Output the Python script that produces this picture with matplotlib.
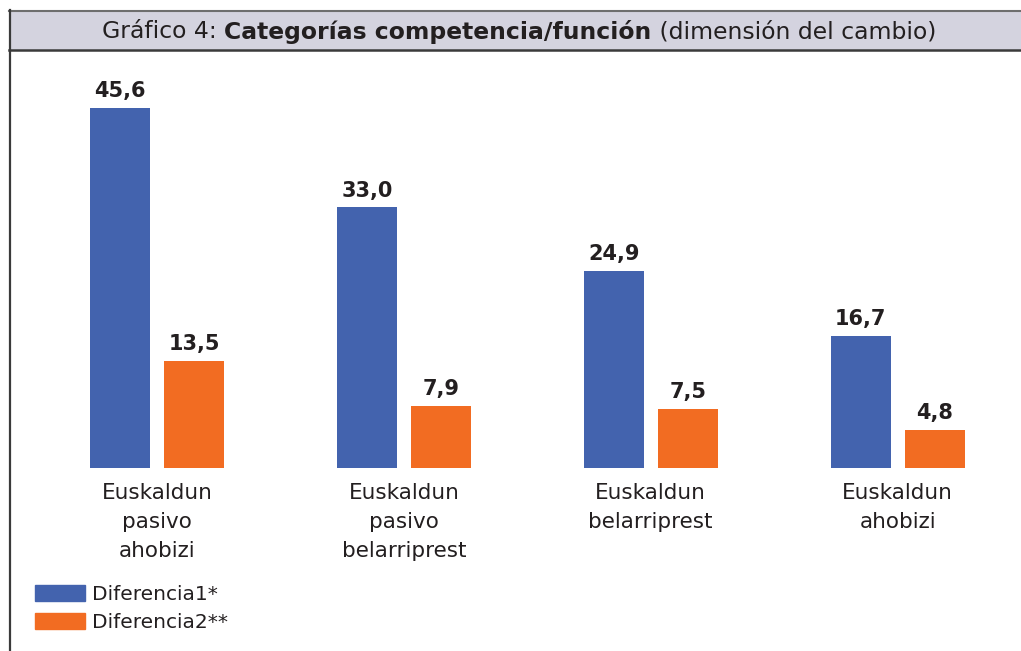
import matplotlib.pyplot as plt
from matplotlib.patches import Rectangle, Patch
from matplotlib.lines import Line2D

plt.rcParams['font.family'] = ['DejaVu Sans']

# datos
categorias = ['Euskaldun\npasivo\nahobizi', 'Euskaldun\npasivo\nbelarriprest',
              'Euskaldun\nbelarriprest', 'Euskaldun\nahobizi']
diferencia1 = [45.6, 33.0, 24.9, 16.7]
diferencia2 = [13.5, 7.9, 7.5, 4.8]
series = ['Diferencia1*', 'Diferencia2**']

azul = '#4363ae'
naranja = '#f26c22'
texto = '#231f20'

W, H = 1021, 651
fig = plt.figure(figsize=(W / 100, H / 100), dpi=100)

# marco: barra de titulo y linea izquierda
fig.patches.append(Rectangle((9 / W, 1 - 50 / H), 1.1, 40 / H, transform=fig.transFigure,
                             facecolor='#d4d3df', edgecolor='none', zorder=0))
fig.lines.append(Line2D([9 / W, 1], [1 - 10.5 / H, 1 - 10.5 / H], transform=fig.transFigure,
                        color='#6e6e6e', lw=1.5))
fig.lines.append(Line2D([9 / W, 1], [1 - 50 / H, 1 - 50 / H], transform=fig.transFigure,
                        color='#3a3a3a', lw=1.8))
fig.lines.append(Line2D([9.5 / W, 9.5 / W], [0, 1 - 10 / H], transform=fig.transFigure,
                        color='#3a3a3a', lw=1.6))

# titulo en tres partes
partes = [('Gráfico 4: ', 'normal'), ('Categorías competencia/función', 'bold'),
          (' (dimensión del cambio)', 'normal')]
fig.canvas.draw()
r = fig.canvas.get_renderer()
objs = []
for s, w in partes:
    t = fig.text(0, 1 - 32 / H, s, fontsize=16.9, fontweight=w, color=texto, va='center')
    objs.append(t)
anchos = [t.get_window_extent(r).width for t in objs]
x0 = 519 - sum(anchos) / 2
for t, a in zip(objs, anchos):
    t.set_x(x0 / W)
    x0 += a

# ejes
ax = fig.add_axes([33.6 / W, 183 / H, (1021 - 33.6) / W, (468 - 60) / H])
x = range(len(categorias))
off = 37 / 246.8
bw = 60 / 246.8
b1 = ax.bar([i - off for i in x], diferencia1, bw, color=azul, label=series[0])
b2 = ax.bar([i + off for i in x], diferencia2, bw, color=naranja, label=series[1])
for barras in (b1, b2):
    for b in barras:
        ax.annotate(f'{b.get_height():.1f}'.replace('.', ','),
                    (b.get_x() + b.get_width() / 2, b.get_height()),
                    xytext=(0, 5), textcoords='offset points', ha='center', va='bottom',
                    fontsize=15, fontweight='bold', color=texto)
ax.set_xlim(-0.5, 3.5)
ax.set_ylim(0, (468 - 60) / 7.895)
ax.set_xticks(list(x))
ax.set_xticklabels(categorias, fontsize=15.5, color=texto, linespacing=1.58)
ax.tick_params(axis='x', length=0, pad=10.5)
ax.set_yticks([])
for s in ax.spines.values():
    s.set_visible(False)
ax.patch.set_alpha(0)

handles = [Patch(color=azul), Patch(color=naranja)]
fig.legend(handles, series, loc='upper left', bbox_to_anchor=(19 / W, 1 - 569 / H),
           frameon=False, fontsize=14.5, handlelength=2.5, handleheight=0.85,
           handletextpad=0.3, labelspacing=0.45, labelcolor=texto, borderpad=0.3)

fig.savefig('out.png', dpi=100)
